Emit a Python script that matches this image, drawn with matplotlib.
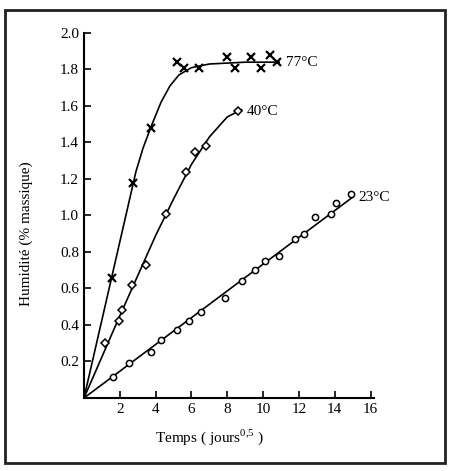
import matplotlib.pyplot as plt
from matplotlib.patches import Rectangle

plt.rcParams['font.family'] = ['Liberation Serif', 'DejaVu Serif']
plt.rcParams['mathtext.fontset'] = 'custom'
plt.rcParams['mathtext.rm'] = 'Liberation Serif'

x77 = [1.55, 2.76, 3.76, 5.2, 5.6, 6.4, 7.96, 8.45, 9.3, 9.9, 10.4, 10.8]
y77 = [0.66, 1.18, 1.48, 1.84, 1.81, 1.81, 1.87, 1.81, 1.87, 1.81, 1.88, 1.84]

x40 = [1.16, 1.93, 2.1, 2.7, 3.48, 4.6, 5.7, 6.2, 6.8, 8.6]
y40 = [0.30, 0.42, 0.48, 0.62, 0.73, 1.01, 1.24, 1.35, 1.38, 1.57]

x23 = [1.6, 2.5, 3.75, 4.3, 5.2, 5.85, 6.55, 7.9, 8.8, 9.55, 10.1, 10.9,
       11.8, 12.3, 12.9, 13.8, 14.1, 14.9]
y23 = [0.115, 0.19, 0.25, 0.32, 0.37, 0.42, 0.47, 0.55, 0.64, 0.70, 0.75, 0.78,
       0.87, 0.90, 0.99, 1.01, 1.07, 1.12]

# courbes tracées
cx77 = [0, 2.9, 3.3, 3.8, 4.3, 4.8, 5.3, 6.0, 7.0, 9.0, 10.9]
cy77 = [0, 1.24, 1.37, 1.50, 1.62, 1.71, 1.77, 1.81, 1.83, 1.84, 1.84]
cx40 = [0, 2.0, 4.0, 5.0, 6.0, 7.0, 8.0, 8.8]
cy40 = [0, 0.45, 0.89, 1.09, 1.28, 1.43, 1.54, 1.58]
cx23 = [0, 15.0]
cy23 = [0, 1.10]

labels = ['77°C', '40°C', '23°C']
label_pos = [(11.3, 1.84), (9.1, 1.57), (15.3, 1.10)]

xticks = [2, 4, 6, 8, 10, 12, 14, 16]
yticks = [0.2, 0.4, 0.6, 0.8, 1.0, 1.2, 1.4, 1.6, 1.8, 2.0]

fig = plt.figure(figsize=(4.54, 4.71), dpi=100)
fig.patches.append(Rectangle((0.011, 0.017), 0.969, 0.962, transform=fig.transFigure,
                             fill=False, edgecolor='#222222', linewidth=2))
ax = fig.add_axes([0.185, 0.155, 0.639, 0.775])

ax.plot(cx77, cy77, color='black', lw=1.2)
ax.plot(cx40, cy40, color='black', lw=1.2)
ax.plot(cx23, cy23, color='black', lw=1.2)

ax.plot(x77, y77, 'x', color='black', ms=6, mew=1.6)
ax.plot(x40, y40, 'D', color='black', mfc='white', ms=4.5, mew=1.1)
ax.plot(x23, y23, 'o', color='black', mfc='white', ms=4.5, mew=1.1)

for lab, (lx, ly) in zip(labels, label_pos):
    ax.text(lx, ly, lab, fontsize=11, va='center', ha='left')

ax.set_xlim(0, 16.2)
ax.set_ylim(0, 2.0)
ax.set_xticks(xticks)
ax.set_yticks(yticks)
ax.set_yticklabels([f'{v:.1f}' for v in yticks])
ax.tick_params(direction='in', length=5, width=1.2, labelsize=11)
ax.spines['top'].set_visible(False)
ax.spines['right'].set_visible(False)
ax.spines['left'].set_linewidth(1.5)
ax.spines['bottom'].set_linewidth(1.5)

ax.set_xlabel('Temps ( jours$^{0{,}5}$ )', fontsize=11)
ax.set_ylabel('Humidité (% massique)', fontsize=11)
ax.xaxis.set_label_coords(0.434, -0.08)
ax.yaxis.set_label_coords(-0.175, 0.45)

fig.savefig('out.png', dpi=100)
